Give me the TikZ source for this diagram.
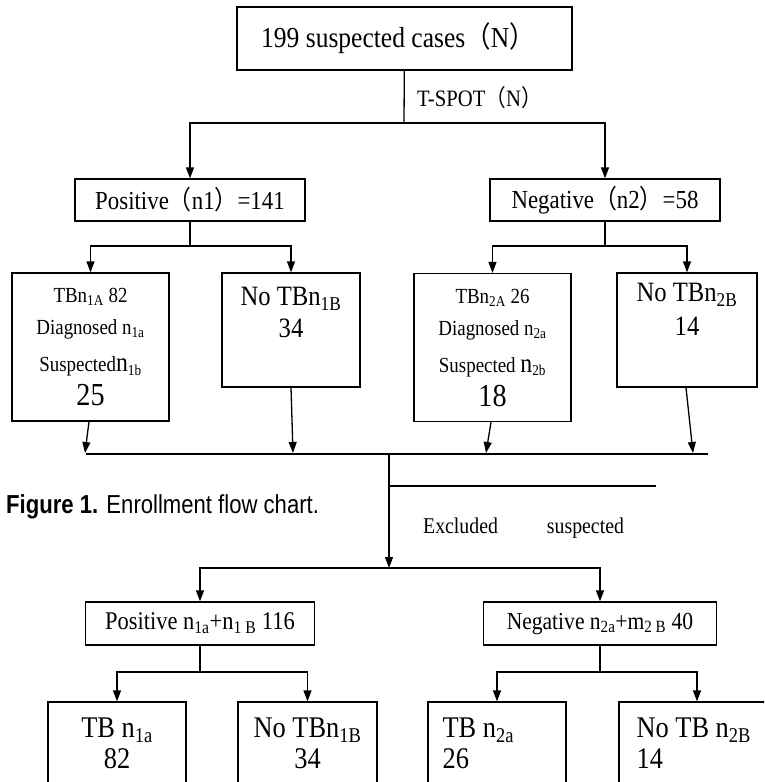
\documentclass[tikz,border=0pt]{standalone}
\usepackage{fontspec}
\setmainfont[FakeStretch=0.88]{Liberation Serif}
\newfontfamily\cjk[FakeStretch=0.88]{Noto Sans CJK SC}
\newfontfamily\capfont[FakeStretch=0.85]{Liberation Sans}
\usetikzlibrary{arrows.meta,positioning,calc}
\newcommand{\fwl}{{\cjk （}}
\newcommand{\fwr}{{\cjk ）}}
\newcommand{\fsz}[2]{\fontsize{#1}{#2}\selectfont}
\newcommand{\sbs}[1]{\textsubscript{#1}}

\begin{document}
\begin{tikzpicture}[x=1pt, y=-1pt,
  box/.style={draw, line width=1.3pt, inner sep=0pt},
  txt/.style={inner sep=0pt, align=center},
  ar/.style={-{Triangle[length=11pt,width=8pt]}, line width=1.3pt},
  ln/.style={line width=1.3pt}]
\useasboundingbox (0,0) rectangle (764,782);
\clip (0,0) rectangle (764,782);
% first split
\node[box, minimum width=335, minimum height=63] (top) at (404.5,38.5) {};
\node[txt, font=\fsz{29}{30}] (topt) at (398,38) {199 suspected cases\fwl N\fwr};
\node[anchor=west, inner sep=0pt, font=\fsz{23.5}{24}] (tspot) at (417,98) {T-SPOT\fwl N\fwr};
\node[box, minimum width=230, minimum height=42, font=\fsz{26}{26}] (pos) at (190,200) {Positive\fwl n1\fwr =141};
\node[box, minimum width=230, minimum height=42, font=\fsz{26}{26}] (neg) at (605,200) {Negative\fwl n2\fwr =58};
\coordinate (j1) at (404,123);
\draw[ln] (top) -- (j1);
\draw[ar] (j1) -| (pos);
\draw[ar] (j1) -| (neg);
% second row
\node[box, minimum width=157, minimum height=148] (tbA) at (90.5,347) {};
\node[box, minimum width=138, minimum height=114] (notbA) at (291,330) {};
\node[box, minimum width=157, minimum height=148] (tbB) at (492.5,347.5) {};
\node[box, minimum width=140, minimum height=114] (notbB) at (687,330) {};
\node[txt, font=\fsz{21.5}{32}, below=16pt of tbA.north] (tbAt)
  {TBn\sbs{1A} 82\\Diagnosed n\sbs{1a}\\[5pt]Suspected{\fsz{27}{32}n}\sbs{1b}\\[2pt]{\fsz{32}{30}25}};
\node[txt, font=\fsz{28}{32}, below=15pt of notbA.north] (notbAt) {No TBn\sbs{1B}\\34};
\node[txt, font=\fsz{21.5}{32}, below=16pt of tbB.north] (tbBt)
  {TBn\sbs{2A} 26\\Diagnosed n\sbs{2a}\\[5pt]Suspected {\fsz{27}{32}n}\sbs{2b}\\[2pt]{\fsz{32}{30}18}};
\node[txt, font=\fsz{28}{34}, below=11pt of notbB.north] (notbBt) {No TBn\sbs{2B}\\14};
\coordinate (j2) at (190,246);
\coordinate (j3) at (605,246);
\draw[ln] (pos) -- (j2);
\draw[ar] (j2) -| (tbA);
\draw[ar] (j2) -| (notbA);
\draw[ln] (neg) -- (j3);
\draw[ar] (j3) -| (tbB);
\draw[ar] (j3) -| (notbB);
% merge
\coordinate (cl) at (86,454);
\coordinate (cr) at (708,454);
\coordinate (eA) at (85,453);
\coordinate (eB) at (293,453);
\coordinate (eC) at (486,453);
\coordinate (eD) at (693,453);
\draw[ln] (cl) -- (cr);
\draw[ar] ([xshift=-1.5pt]tbA.south) -- (eA);
\draw[ar] (notbA.south) -- (eB);
\draw[ar] ([xshift=-1.5pt]tbB.south) -- (eC);
\draw[ar] ([xshift=-1pt]notbB.south) -- (eD);
\coordinate (jc) at (389,454);
\coordinate (j4) at (389,568);
\coordinate (xs) at (389,486);
\coordinate (xe) at (656,486);
\draw[ar] (jc) -- (j4);
\draw[ln] (xs) -- (xe);
\node[anchor=west, inner sep=0pt, font=\capfont\fsz{26}{26}] (cap) at (6,507) {\textbf{Figure 1.} Enrollment flow chart.};
\node[anchor=west, inner sep=0pt, font=\fsz{22.5}{23}] (excl) at (423,528) {Excluded\hspace{49pt}suspected};
% second split
\node[box, minimum width=229, minimum height=43, font=\fsz{25.5}{26}] (pos2) at (200,623.5) {Positive n\sbs{1a}+n\sbs{1 B} 116};
\node[box, minimum width=233, minimum height=43, font=\fsz{24.5}{26}] (neg2) at (600,623.5) {Negative n\sbs{2a}+m\sbs{2 B} 40};
\draw[ln] (200,568) -- (600,568);
\draw[ar] (j4) -| (pos2);
\draw[ar] (j4) -| (neg2);
\node[box, minimum width=138, minimum height=110] (tb1) at (117,757) {};
\node[box, minimum width=139, minimum height=110] (notb1) at (307.5,757) {};
\node[box, minimum width=138, minimum height=110] (tb2) at (497,757) {};
\node[box, minimum width=156, minimum height=110] (notb2) at (697,757) {};
\node[txt, font=\fsz{30}{31}, below=16pt of tb1.north] (tb1t) {TB n\sbs{1a}\\82};
\node[txt, font=\fsz{30}{31}, below=16pt of notb1.north] (notb1t) {No TBn\sbs{1B}\\34};
\node[txt, align=left, anchor=north west, font=\fsz{30}{31}] (tb2t) at ([xshift=15pt,yshift=-16pt]tb2.north west) {TB n\sbs{2a}\\26};
\node[txt, align=left, anchor=north west, font=\fsz{30}{31}] (notb2t) at ([xshift=18pt,yshift=-16pt]notb2.north west) {No TB n\sbs{2B}\\14};
\coordinate (j5) at (200,672);
\coordinate (j6) at (600,672);
\draw[ln] (pos2) -- (j5);
\draw[ar] (j5) -| (tb1);
\draw[ar] (j5) -| (notb1);
\draw[ln] (neg2) -- (j6);
\draw[ar] (j6) -| (tb2);
\draw[ar] (j6) -| (notb2);
\end{tikzpicture}
\end{document}
